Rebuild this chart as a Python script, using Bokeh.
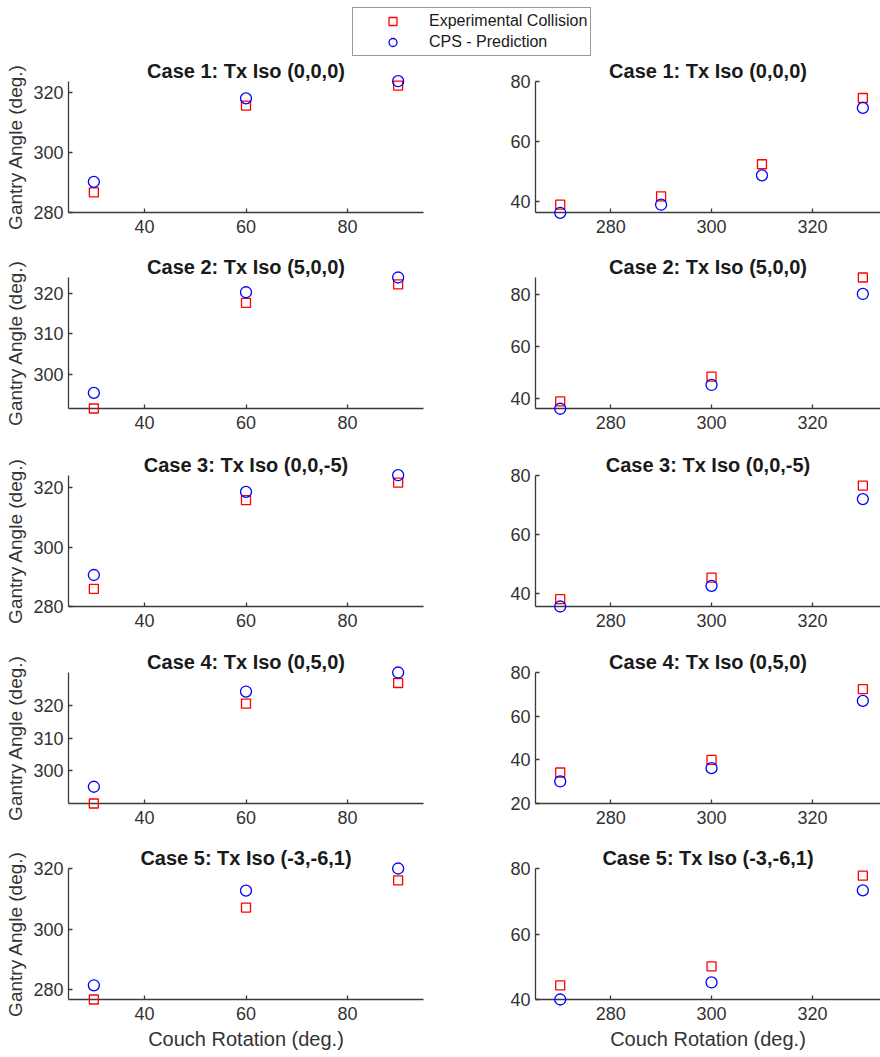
from bokeh.plotting import figure
from bokeh.layouts import column, row
from bokeh.models import (Range1d, FixedTicker, Legend, LegendItem, ColumnDataSource)
from bokeh.embed import file_html
from bokeh.resources import INLINE

# ---------------- data ----------------
titles = ["Case 1: Tx Iso (0,0,0)", "Case 2: Tx Iso (5,0,0)", "Case 3: Tx Iso (0,0,-5)",
          "Case 4: Tx Iso (0,5,0)", "Case 5: Tx Iso (-3,-6,1)"]

couch_left = [30, 60, 90]
left_exp = [
    [286.7, 315.6, 322.2],
    [291.8, 317.6, 322.1],
    [285.9, 315.8, 321.7],
    [290.1, 320.5, 326.8],
    [276.7, 307.1, 316.1],
]
left_cps = [
    [290.2, 318.0, 323.7],
    [295.6, 320.2, 323.8],
    [290.6, 318.6, 324.2],
    [295.2, 324.2, 330.0],
    [281.4, 312.7, 320.0],
]

couch_right = [
    [270, 290, 310, 330],
    [270, 300, 330],
    [270, 300, 330],
    [270, 300, 330],
    [270, 300, 330],
]
right_exp = [
    [38.9, 41.7, 52.4, 74.5],
    [39.0, 48.5, 86.4],
    [38.1, 45.4, 76.6],
    [34.2, 40.0, 72.4],
    [44.3, 50.1, 77.8],
]
right_cps = [
    [36.2, 38.9, 48.7, 71.2],
    [36.2, 45.3, 80.1],
    [35.6, 42.6, 72.0],
    [30.1, 36.2, 67.0],
    [40.0, 45.2, 73.3],
]

left_yticks = [[280, 300, 320], [300, 310, 320], [280, 300, 320], [300, 310, 320], [280, 300, 320]]
right_yticks = [[40, 60, 80], [40, 60, 80], [40, 60, 80], [20, 40, 60, 80], [40, 60, 80]]
left_xticks = [40, 60, 80]
right_xticks = [280, 300, 320]

left_yrange = [(280, 323.6), (291.8, 323.8), (280, 324.1), (290.1, 330.0), (276.7, 320.0)]
right_yrange = [(36.3, 80), (36.3, 86.4), (35.6, 80), (20, 80), (40, 80)]
left_xrange = (25, 95)
right_xrange = (265.1, 333.5)

legend_labels = ["Experimental Collision", "CPS - Prediction"]

# ---------------- styling ----------------
FONT = "Liberation Sans"
AX = "#3a3a3a"
RED = "#ff0000"
BLUE = "#0000ff"

row_heights = [194, 198, 197, 196, 216]
top_borders = [25, 27, 27, 27, 27]


def style(p, xticks, yticks, xlabel=None, ylabel=None):
    p.outline_line_color = None
    p.xgrid.grid_line_color = None
    p.ygrid.grid_line_color = None
    p.background_fill_color = "white"
    p.border_fill_color = "white"
    for ax, ticks in ((p.xaxis[0], xticks), (p.yaxis[0], yticks)):
        ax.ticker = FixedTicker(ticks=ticks, minor_ticks=[])
        ax.axis_line_color = AX
        ax.axis_line_width = 1.3
        ax.major_tick_line_color = AX
        ax.major_tick_line_width = 1.3
        ax.major_tick_in = 4
        ax.major_tick_out = 0
        ax.minor_tick_line_color = None
        ax.major_label_text_font = FONT
        ax.major_label_text_font_size = "18px"
        ax.major_label_text_color = "#333333"
        ax.axis_label_text_font = FONT
        ax.axis_label_text_font_style = "normal"
        ax.axis_label_text_color = "#333333"
    p.xaxis[0].major_label_standoff = 7
    p.yaxis[0].major_label_standoff = 5
    if xlabel:
        p.xaxis[0].axis_label = xlabel
        p.xaxis[0].axis_label_standoff = 5
        p.xaxis[0].axis_label_text_font_size = "20px"
    if ylabel:
        p.yaxis[0].axis_label = ylabel
        p.yaxis[0].axis_label_standoff = 4
        p.yaxis[0].axis_label_text_font_size = "19px"
    p.title.text_font = FONT
    p.title.text_font_size = "20px"
    p.title.text_font_style = "bold"
    p.title.text_color = "#1a1a1a"
    p.title.align = "center"
    p.title.standoff = 0


def add_points(p, xs, exp, cps):
    p.scatter(xs, exp, marker="square", size=9, fill_color=None,
              line_color=RED, line_width=1.3, level="overlay")
    p.scatter(xs, cps, marker="circle", size=11, fill_color=None,
              line_color=BLUE, line_width=1.3, level="overlay")


rows = []
for i in range(5):
    last = (i == 4)
    h = row_heights[i]
    bottom = h - top_borders[i] - 131
    pl = figure(width=440, height=h, output_backend="svg", toolbar_location=None,
                x_range=Range1d(*left_xrange), y_range=Range1d(*left_yrange[i]),
                title=titles[i], min_border_left=68, min_border_right=17,
                min_border_top=top_borders[i], min_border_bottom=bottom)
    add_points(pl, couch_left, left_exp[i], left_cps[i])
    style(pl, left_xticks, left_yticks[i],
          xlabel="Couch Rotation (deg.)" if last else None, ylabel="Gantry Angle (deg.)")

    pr = figure(width=440, height=h, output_backend="svg", toolbar_location=None,
                x_range=Range1d(*right_xrange), y_range=Range1d(*right_yrange[i]),
                title=titles[i], min_border_left=95, min_border_right=0,
                min_border_top=top_borders[i], min_border_bottom=bottom)
    add_points(pr, couch_right[i], right_exp[i], right_cps[i])
    style(pr, right_xticks, right_yticks[i],
          xlabel="Couch Rotation (deg.)" if last else None)
    pr.title.offset = 2
    rows.append(row(pl, pr, spacing=0))

# ---------------- legend strip ----------------
lg = figure(width=880, height=56, output_backend="svg", toolbar_location=None,
            x_range=Range1d(0, 1), y_range=Range1d(0, 1), x_axis_type=None, y_axis_type=None,
            min_border=0, min_border_left=0, min_border_right=0, min_border_top=0,
            min_border_bottom=0)
lg.outline_line_color = None
lg.xgrid.grid_line_color = None
lg.ygrid.grid_line_color = None
hidden = ColumnDataSource(data=dict(x=[-5], y=[-5]))
r1 = lg.scatter("x", "y", source=hidden, marker="square", size=9, fill_color=None,
                line_color=RED, line_width=1.3)
r2 = lg.scatter("x", "y", source=hidden, marker="circle", size=9, fill_color=None,
                line_color=BLUE, line_width=1.3)
legend = Legend(items=[LegendItem(label=legend_labels[0], renderers=[r1], index=0),
                       LegendItem(label=legend_labels[1], renderers=[r2], index=0)],
                location=(352, 0), orientation="vertical",
                padding=3, spacing=1, margin=0, glyph_width=73, glyph_height=20,
                label_height=20, label_width=156, label_standoff=0,
                label_text_font=FONT, label_text_font_size="16px",
                label_text_color="#1a1a1a",
                border_line_color="#333333", border_line_width=1,
                background_fill_color="white", background_fill_alpha=1)
lg.add_layout(legend, "center")

layout = column(lg, *rows, spacing=0)
open("out.html", "w").write(file_html(layout, INLINE))
